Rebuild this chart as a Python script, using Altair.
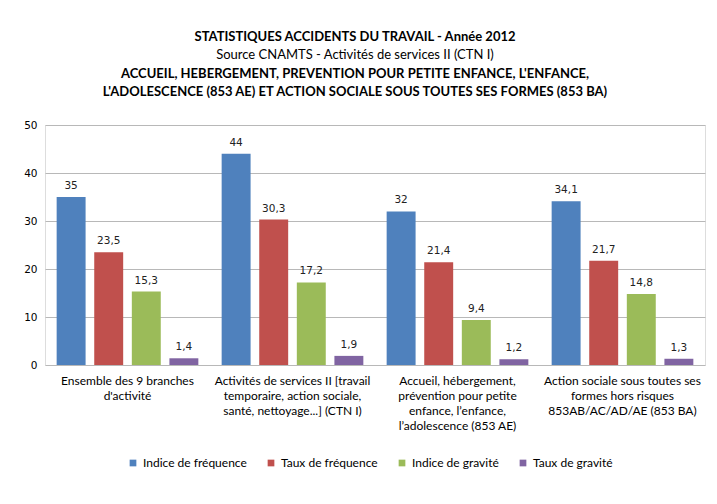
import altair as alt
import pandas as pd

categories = [
    "Ensemble des 9 branches|d'activité",
    "Activités de services II [travail|temporaire, action sociale,|santé, nettoyage...] (CTN I)",
    "Accueil, hébergement,|prévention pour petite|enfance, l’enfance,|l’adolescence (853 AE)",
    "Action sociale sous toutes ses|formes hors risques|853AB/AC/AD/AE (853 BA)",
]
series = ["Indice de fréquence", "Taux de fréquence", "Indice de gravité", "Taux de gravité"]
indice_frequence = [35, 44, 32, 34.1]
taux_frequence = [23.5, 30.3, 21.4, 21.7]
indice_gravite = [15.3, 17.2, 9.4, 14.8]
taux_gravite = [1.4, 1.9, 1.2, 1.3]
colors = ["#4F81BD", "#C0504D", "#9BBB59", "#8064A2"]
y_ticks = [0, 10, 20, 30, 40, 50]

title_lines = [
    "STATISTIQUES ACCIDENTS DU TRAVAIL - Année 2012",
    "Source  CNAMTS - Activités de services II (CTN I)",
    "ACCUEIL,  HEBERGEMENT, PREVENTION POUR PETITE ENFANCE, L'ENFANCE,",
    "L'ADOLESCENCE (853 AE) ET ACTION SOCIALE SOUS TOUTES SES FORMES (853 BA)",
]
title_weights = ["bold", "normal", "bold", "bold"]

rows = []
for vals, s in zip([indice_frequence, taux_frequence, indice_gravite, taux_gravite], series):
    for c, v in zip(categories, vals):
        rows.append({"cat": c, "serie": s, "value": v})
df = pd.DataFrame(rows)

W, H = 660, 240

x = alt.X(
    "cat:N", sort=categories, title=None,
    scale=alt.Scale(paddingInner=0, paddingOuter=0),
    axis=alt.Axis(
        labelAngle=0, labelExpr="split(datum.label, '|')", labelFont="Lato",
        labelFontSize=12, labelColor="#000000", labelLineHeight=15, labelPadding=10,
        domain=False, ticks=False, labelLimit=200,
    ),
)
xo = alt.XOffset("serie:N", sort=series, scale=alt.Scale(paddingInner=0.23, paddingOuter=0.31))
y = alt.Y(
    "value:Q", title=None, scale=alt.Scale(domain=[0, 50], nice=False),
    axis=alt.Axis(
        values=y_ticks, labelFont="DejaVu Sans", labelFontSize=10.5, labelColor="#000000",
        labelPadding=8, domain=False, ticks=False, gridColor="#B8B8B8", gridWidth=1,
    ),
)

base = alt.Chart(df)
bars = base.mark_bar().encode(
    x=x, xOffset=xo, y=y,
    color=alt.Color(
        "serie:N", sort=series, scale=alt.Scale(domain=series, range=colors),
        legend=alt.Legend(
            title=None, orient="none", direction="horizontal", legendX=82, legendY=332,
            symbolType="square", symbolSize=45, symbolStrokeWidth=0,
            labelFont="Lato", labelFontSize=12, labelColor="#000000",
            columnPadding=18, labelOffset=4,
        ),
    ),
)
labels = base.transform_calculate(
    lbl="replace(toString(datum.value), '.', ',')"
).mark_text(
    baseline="bottom", dy=-6, font="DejaVu Sans", fontSize=10.5, color="#222222"
).encode(x=x, xOffset=xo, y=y, text="lbl:N")

tdf = pd.DataFrame({"t": title_lines, "w": title_weights, "i": list(range(4))})
title_pos = [-88, -70, -51, -33]
title_layers = []
for i, (t, w) in enumerate(zip(title_lines, title_weights)):
    title_layers.append(
        alt.Chart(tdf[tdf.i == i]).mark_text(
            font="Lato", fontSize=13, fontWeight=w, color="#000000", baseline="middle", align="center"
        ).encode(x=alt.value(310), y=alt.value(title_pos[i]), text="t:N")
    )

chart = alt.layer(bars, labels, *title_layers).properties(
    width=W, height=H,
    autosize=alt.AutoSizeParams(type="none"),
    padding={"left": 37, "top": 117, "right": 4, "bottom": 123},
).configure_view(stroke=None).configure(background="#FFFFFF")

chart.save("out.html", embed_options={"renderer": "svg", "actions": False})
